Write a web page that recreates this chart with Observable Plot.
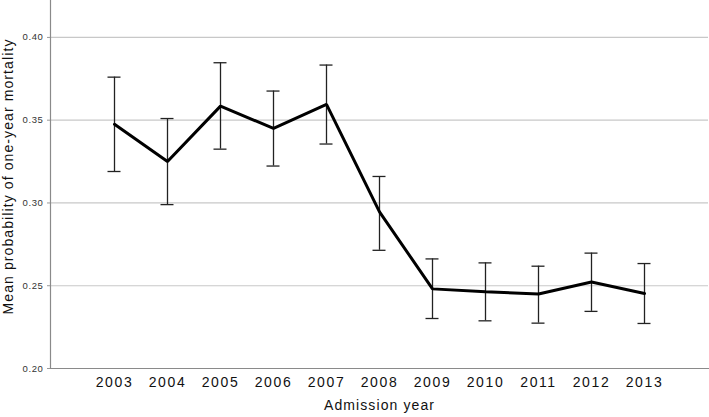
<!DOCTYPE html>
<html>
<head>
<meta charset="utf-8">
<script src="https://cdn.jsdelivr.net/npm/d3@7"></script>
<script src="https://cdn.jsdelivr.net/npm/@observablehq/plot@0.6"></script>
<style>
  body { margin: 0; background: #fff; }
  #chart svg { display: block; }
  [aria-label="x-axis tick label"] text { letter-spacing: 1.6px; }
  [aria-label="y-axis tick label"] text { letter-spacing: 0.6px; }
  .title text { letter-spacing: 1.1px; }
</style>
</head>
<body>
<div id="chart"></div>
<script>
const years = ["2003","2004","2005","2006","2007","2008","2009","2010","2011","2012","2013"];
const meanValues = [0.3475, 0.325, 0.3585, 0.345, 0.3595, 0.2946, 0.2481, 0.2463, 0.2450, 0.2522, 0.2453];
const lowerValues = [0.319, 0.299, 0.3325, 0.3223, 0.3356, 0.2714, 0.2302, 0.2288, 0.2274, 0.2345, 0.2272];
const upperValues = [0.376, 0.351, 0.3847, 0.3676, 0.3833, 0.316, 0.2662, 0.2638, 0.2618, 0.2697, 0.2634];
const yTicks = [0.20, 0.25, 0.30, 0.35, 0.40];
const gridTicks = [0.25, 0.30, 0.35, 0.40];
const xTitle = ["Admission year"];
const yTitle = ["Mean probability of one-year mortality"];

const data = years.map((y, i) => ({year: y, mean: meanValues[i], lo: lowerValues[i], hi: upperValues[i]}));

const chart = Plot.plot({
  width: 709,
  height: 417,
  marginLeft: 50,
  marginRight: 1,
  marginTop: 0,
  marginBottom: 49,
  style: {fontFamily: "'Liberation Sans', Arial, sans-serif", background: "#fff"},
  x: {type: "point", domain: years, padding: 1.115},
  y: {domain: [0.20, 0.4223]},
  marks: [
    Plot.gridY(gridTicks, {stroke: "#c8c8c8", strokeOpacity: 1, strokeWidth: 1.2}),
    Plot.frame({anchor: "left", stroke: "#8a8a8a", strokeWidth: 1.2}),
    Plot.frame({anchor: "bottom", stroke: "#8a8a8a", strokeWidth: 1.2}),
    Plot.axisY(yTicks, {tickSize: 3, tickPadding: 4, tickFormat: d3.format(".2f"), fontSize: 9.5, fill: "#333", stroke: "#999", label: null}),
    Plot.axisX({tickSize: 0, tickPadding: 9, fontSize: 14, fill: "#111", label: null}),
    Plot.ruleX(data, {x: "year", y1: "lo", y2: "hi", stroke: "#222", strokeWidth: 1.3}),
    Plot.ruleY(data, {x1: "year", x2: "year", y: "lo", insetLeft: -6.5, insetRight: -6.5, stroke: "#222", strokeWidth: 1.3}),
    Plot.ruleY(data, {x1: "year", x2: "year", y: "hi", insetLeft: -6.5, insetRight: -6.5, stroke: "#222", strokeWidth: 1.3}),
    Plot.line(data, {x: "year", y: "mean", stroke: "#000", strokeWidth: 3, strokeLinejoin: "miter"}),
    Plot.text(xTitle, {text: d => d, frameAnchor: "bottom", dy: 41, fontSize: 14, fill: "#111", className: "title"}),
    Plot.text(yTitle, {text: d => d, frameAnchor: "left", textAnchor: "middle", rotate: -90, dx: -42, dy: -8, fontSize: 14, fill: "#111", className: "title"})
  ]
});
document.getElementById("chart").appendChild(chart);
</script>
</body>
</html>
